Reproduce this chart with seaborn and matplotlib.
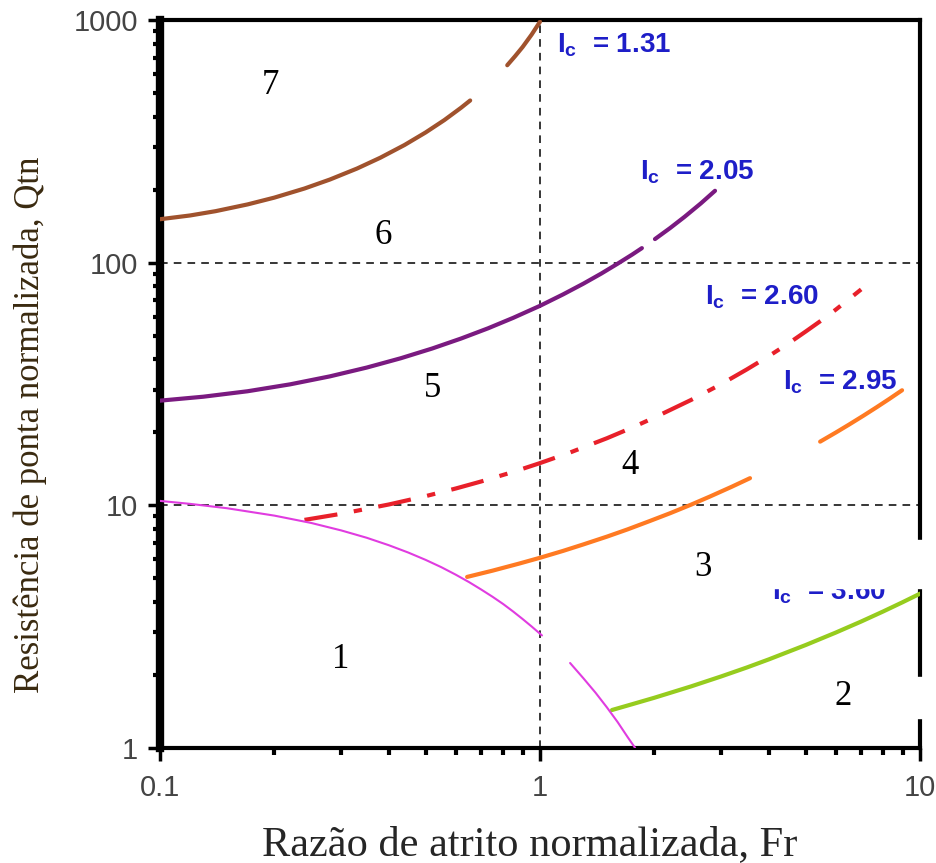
import numpy as np
import pandas as pd
import seaborn as sns
import matplotlib.pyplot as plt
from matplotlib.patches import Rectangle
from matplotlib.ticker import NullFormatter

# Curvas de Ic (Fr, Qtn); seg separa os trechos interrompidos
fr_131 = [0.1, 0.12, 0.14, 0.17, 0.2, 0.24, 0.28, 0.33, 0.38, 0.44, 0.5, 0.56, 0.62, 0.655,
          0.82, 0.86, 0.9, 0.95, 1.0]
q_131 = [151, 156.5, 163, 173.8, 185.4, 202.1, 220.1, 244.3, 270.7, 305.4, 344, 386.8, 435.1, 466,
         651, 709.6, 774, 869.6, 984]
seg_131 = [0] * 14 + [1] * 5

fr_205 = [0.1, 0.13, 0.17, 0.22, 0.28, 0.35, 0.43, 0.52, 0.62, 0.73, 0.85, 1.0, 1.15, 1.3,
          1.45, 1.6, 1.75, 1.854, 2.007, 2.2, 2.4, 2.65, 2.888]
q_205 = [27.0, 28.03, 29.52, 31.52, 34.0, 36.96, 40.37, 44.27, 48.69, 53.64, 59.23, 66.4, 74.0,
         81.9, 90.2, 99.0, 108.1, 114.8, 125.1, 138.9, 154.4, 175.5, 197.8]
seg_205 = [0] * 18 + [1] * 5

fr_260 = [0.24, 0.3, 0.4, 0.5, 0.6, 0.7, 0.85, 1.0, 1.2, 1.5, 1.75, 2, 2.5, 3, 3.5, 4, 4.5,
          5, 5.5, 6, 6.5, 7]
q_260 = [8.71, 9.23, 10.08, 10.91, 11.73, 12.54, 13.73, 14.93, 16.51, 18.9, 20.93, 23.0, 27.2,
         31.6, 36.3, 41.2, 46.4, 52.0, 57.8, 64.0, 70.7, 77.6]
seg_260 = [0] * 22

fr_295 = [0.643, 0.75, 0.88, 1.0, 1.15, 1.3, 1.5, 1.7, 1.95, 2.2, 2.5, 2.8, 3.2, 3.57,
          5.46, 6.0, 6.5, 7.1, 7.7, 8.3, 8.97]
q_295 = [5.07, 5.38, 5.75, 6.08, 6.49, 6.90, 7.43, 7.96, 8.63, 9.28, 10.07, 10.87, 11.94, 12.94,
         18.3, 19.94, 21.5, 23.42, 25.4, 27.44, 29.8]
seg_295 = [0] * 14 + [1] * 7

fr_360 = [1.547, 1.75, 2, 2.5, 3, 3.5, 4, 5, 6, 7, 8, 9, 10]
q_360 = [1.434, 1.516, 1.611, 1.795, 1.973, 2.146, 2.318, 2.656, 2.989, 3.32, 3.653, 3.988, 4.325]
seg_360 = [0] * 13

# limite da zona 1
fr_z1 = [0.1, 0.12, 0.15, 0.2, 0.25, 0.3, 0.35, 0.4, 0.45, 0.5, 0.55, 0.6, 0.65, 0.7, 0.75,
         0.8, 0.85, 0.9, 0.95, 1.012, 1.2, 1.3, 1.4, 1.5, 1.6, 1.7, 1.78]
q_z1 = [10.43, 10.14, 9.73, 9.07, 8.46, 7.88, 7.35, 6.85, 6.39, 5.96, 5.56, 5.18, 4.83, 4.50,
        4.20, 3.92, 3.65, 3.40, 3.17, 2.91, 2.24, 1.94, 1.69, 1.47, 1.28, 1.11, 1.0]
seg_z1 = [0] * 20 + [1] * 7

# rotulos Ic e zonas
ic_labels = ["1.31", "2.05", "2.60", "2.95", "3.60"]
ic_x = [1.108, 1.833, 2.717, 4.36, 4.08]
ic_y = [790, 236, 72.2, 32.2, 4.39]

zonas = ["7", "6", "5", "4", "3", "1", "2"]
zona_x = [0.195, 0.386, 0.52, 1.725, 2.686, 0.298, 6.27]
zona_y = [539, 130, 30.4, 14.66, 5.52, 2.305, 1.623]

sns.set_theme(style="ticks")
plt.rcParams["font.family"] = ["Liberation Sans", "DejaVu Sans"]
plt.rcParams["mathtext.fontset"] = "custom"
plt.rcParams["mathtext.bf"] = "Liberation Sans:bold"
plt.rcParams["mathtext.rm"] = "Liberation Sans"

fig = plt.figure(figsize=(9.36, 8.63), dpi=100)
ax = fig.add_axes([160 / 936, 1 - 748 / 863, 760 / 936, 728 / 863])
ax.set_xscale("log")
ax.set_yscale("log")

# linhas de grade tracejadas
dash = (0, (5, 4))
ax.axvline(1, color="black", lw=1.1, ls=dash, zorder=1)
for yy in [10, 100]:
    ax.axhline(yy, color="black", lw=1.1, ls=dash, zorder=1)

curvas = [
    (fr_131, q_131, seg_131, "#a0522d", 3.0, "-"),
    (fr_205, q_205, seg_205, "#7a1a80", 3.0, "-"),
    (fr_260, q_260, seg_260, "#e8202a", 3.0, (0, (8, 4, 2, 4))),
    (fr_295, q_295, seg_295, "#ff7a22", 3.0, "-"),
    (fr_360, q_360, seg_360, "#96cc1e", 3.0, "-"),
    (fr_z1, q_z1, seg_z1, "#e03ce0", 1.5, "-"),
]
for fr, q, seg, cor, lw, ls in curvas:
    df = pd.DataFrame({"Fr": fr, "Qtn": q, "seg": seg})
    sns.lineplot(data=df, x="Fr", y="Qtn", units="seg", estimator=None, sort=False,
                 color=cor, linewidth=lw, linestyle=ls, ax=ax, legend=False, zorder=3)

ax.set_xlim(0.1, 10)
ax.set_ylim(1, 1000)
ax.set_xticks([0.1, 1, 10], labels=["0.1", "1", "10"])
ax.set_yticks([1, 10, 100, 1000], labels=["1", "10", "100", "1000"])
ax.xaxis.set_minor_formatter(NullFormatter())
ax.yaxis.set_minor_formatter(NullFormatter())
ax.tick_params(which="major", direction="out", length=9, width=2.5, color="black",
               labelsize=21, labelcolor="#444444")
ax.tick_params(axis="x", which="major", pad=10)
ax.tick_params(axis="y", which="major", pad=7)
ax.tick_params(which="minor", direction="out", length=5, width=3, color="black")
ax.set_xlabel("")
ax.set_ylabel("")

for side in ["top", "right", "bottom"]:
    ax.spines[side].set_linewidth(3)
    ax.spines[side].set_color("black")
ax.spines["left"].set_linewidth(6)
ax.spines["left"].set_color("black")

for lab, xx, yy in zip(ic_labels, ic_x, ic_y):
    ax.text(xx, yy, r"I$_\mathbf{c}$  = " + lab, color="#1e1ec8", fontsize=20,
            fontweight="bold", ha="left", va="center", zorder=4)

for lab, xx, yy in zip(zonas, zona_x, zona_y):
    ax.text(xx, yy, lab, family="Liberation Serif", fontsize=25, color="black",
            ha="center", va="center", zorder=6)

# manchas brancas do original
ax.add_patch(Rectangle((0.789, 0.2198), 0.25, 0.066, transform=ax.transAxes,
                       color="white", zorder=5, clip_on=False))
ax.add_patch(Rectangle((0.855, 0.0412), 0.2, 0.056, transform=ax.transAxes,
                       color="white", zorder=5, clip_on=False))

fig.text(530 / 936, 1 - 845 / 863, "Razão de atrito normalizada, Fr",
         family="Liberation Serif", fontsize=30.5, ha="center", va="center")
fig.text(30 / 936, 1 - 425 / 863, "Resistência de ponta normalizada, Qtn",
         family="Liberation Serif", fontsize=25, color="#3a2a10", rotation=90,
         ha="center", va="center")

fig.savefig("out.png", dpi=100)
